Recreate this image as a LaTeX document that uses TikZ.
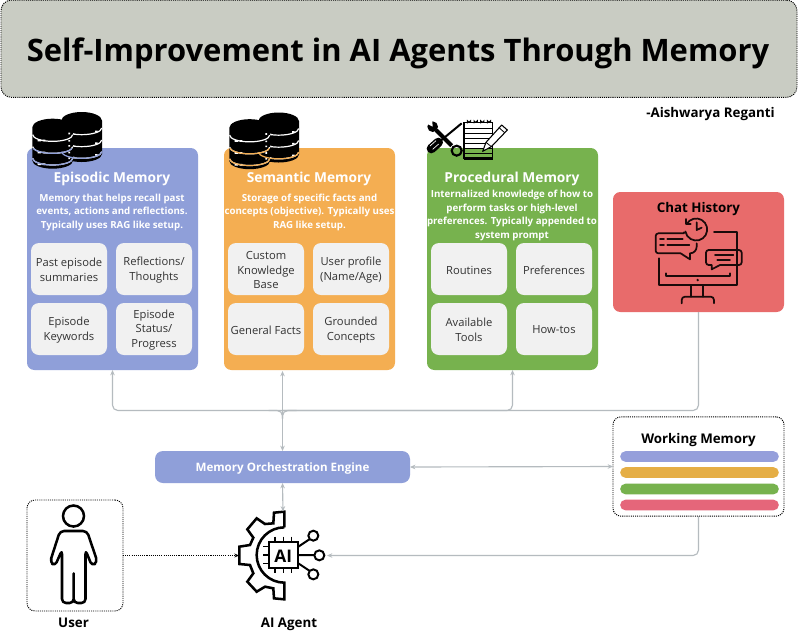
\documentclass[tikz,border=0pt]{standalone}
\usepackage{fontspec}
\setmainfont{Open Sans}
\usetikzlibrary{arrows.meta,calc}
\definecolor{cTitle}{HTML}{C9CCC3}
\definecolor{cEpi}{HTML}{8F9FD9}
\definecolor{cSem}{HTML}{F4AE52}
\definecolor{cProc}{HTML}{77B24E}
\definecolor{cChat}{HTML}{E86B6B}
\definecolor{cCell}{HTML}{F1F1F1}
\definecolor{cConn}{HTML}{B5BBBF}
\definecolor{cBarA}{HTML}{959FDB}
\definecolor{cBarB}{HTML}{E5AE45}
\definecolor{cBarC}{HTML}{77B24E}
\definecolor{cBarD}{HTML}{E5667A}
\definecolor{cInk}{HTML}{1A0A0A}
\newcommand{\fpx}[2]{\fontsize{#1}{#2}\selectfont}
\newcommand{\dblines}[3]{%
  \draw[#3,line width=.9pt] (#1-60,#2+22) arc[start angle=180,end angle=0,x radius=60,y radius=20];
  \draw[#3,line width=.9pt] (#1-60,#2+58) arc[start angle=180,end angle=0,x radius=60,y radius=20];
  \draw[#3,line width=.9pt] (#1-60,#2+93) arc[start angle=180,end angle=0,x radius=60,y radius=20];
}
\newcommand{\dbbody}[2]{%
  \fill[black] (#1-61,#2) -- (#1-61,#2+100) arc[start angle=180,end angle=0,x radius=61,y radius=24]
     -- (#1+61,#2) arc[start angle=0,end angle=-180,x radius=61,y radius=26] -- cycle;
  \dblines{#1}{#2}{white}
  \fill[white] (#1-45,#2+37) rectangle ++(10,5) (#1-30,#2+37) rectangle ++(8,5)
               (#1-45,#2+73) rectangle ++(10,5) (#1-30,#2+73) rectangle ++(8,5)
               (#1-45,#2+108) rectangle ++(10,5) (#1-30,#2+108) rectangle ++(8,5);
}
\newcommand{\dbicon}[1]{%
  \dbbody{245}{92}
  \fill[white] (285,122) rectangle ++(8,5) (285,157) rectangle ++(8,5) (285,192) rectangle ++(8,5);
  \dbbody{158}{112}
  \fill[white] (205,128) rectangle ++(5,5) (205,150) rectangle ++(5,5) (205,165) rectangle ++(5,5) (205,185) rectangle ++(5,5) (205,202) rectangle ++(5,5);
  \begin{scope}
    \clip (0,175) rectangle (330,250);
    \dblines{245}{92}{#1}
    \dblines{158}{112}{#1}
  \end{scope}
}
\newcommand{\cellnode}[4]{%
  \node[cell] (#1) at (#2,#3) {};
  \node[celltext] (#1t) at (#2,#3+1) {#4};
}
\tikzset{
  every node/.style={inner sep=0pt,outer sep=0pt,align=center},
  membox/.style={rounded corners=5.5pt,minimum width=128.25pt,minimum height=166.5pt},
  cell/.style={fill=cCell,rounded corners=6pt,minimum width=57pt,minimum height=39pt},
  celltext/.style={text=black!80,font=\fpx{8.4}{10.9}},
  memtitle/.style={text=white,font=\fpx{10.3}{13}\bfseries},
  memdesc/.style={text=white,font=\fpx{7.3}{10.1}\bfseries},
  bartag/.style={rounded corners=4pt,minimum width=119pt,minimum height=8pt},
  dotbox/.style={draw=black,line width=.7pt,dash pattern=on .8pt off .8pt,rounded corners=6pt},
  conn/.style={draw=cConn,line width=.85pt},
  tipE/.tip={Stealth[length=4pt,width=3.4pt]},
  blacklabel/.style={text=black,font=\fpx{10}{13}\bfseries},
  ink/.style={draw=cInk,line width=1.3pt,line cap=round,line join=round},
  gearline/.style={draw=black,line width=1.9pt,line join=miter},
}
\begin{document}
\begin{tikzpicture}[x=.75pt,y=-.75pt]
\useasboundingbox (0,0) rectangle (800,633);
\fill[white] (0,0) rectangle (800,633);
% title
\node[fill=cTitle,dotbox,rounded corners=8pt,minimum width=597pt,minimum height=73pt] (title) at (399,48.7) {};
\node[font=\fpx{23.2}{28}\bfseries,text=black] (titletext) at (398,53.5) {Self-Improvement in AI Agents Through Memory};
\node[blacklabel] (author) at (710.5,114) {-Aishwarya Reganti};
% memory boxes
\node[membox,fill=cEpi] (epi) at (112.5,259) {};
\node[membox,fill=cSem] (sem) at (309.5,259) {};
\node[membox,fill=cProc] (proc) at (512.5,259) {};
\node[rounded corners=5.5pt,minimum width=128.25pt,minimum height=90pt,fill=cChat] (chat) at (698.5,252) {};
% icons: databases
\begin{scope}[shift={(0,90)},x=.25pt,y=-.25pt]
  \dbicon{cEpi}
\end{scope}
\begin{scope}[shift={(197,90.5)},x=.25pt,y=-.25pt]
  \dbicon{cSem}
\end{scope}
% icon: tools and notepad
\begin{scope}[shift={(420,110)},x=.25pt,y=-.25pt]
  \draw[black,line width=1.5pt] (125,40) -- (62,92);
  \draw[black,line width=7pt,line cap=round] (55,97) -- (34,116);
  \draw[white,line width=.5pt] (30,108) -- (48,92) (38,118) -- (56,102);
  \draw[black,line width=3pt] (48,60) -- (95,107);
  \fill[black] (38,50) circle[radius=16];
  \fill[white] (38,50) -- (18,40) -- (36,22) -- cycle;
  \draw[black,line width=1.6pt] (110,122) circle[radius=15];
  \draw[black,line width=1.1pt] (132,38) rectangle (218,145);
  \foreach \yy in {55,70,85,100,115,130}{\draw[black,line width=.6pt] (134,\yy) -- (216,\yy);}
  \fill[black] (132,140) rectangle (218,150);
  \foreach \xx in {142,162,182,202}{\draw[black,line width=.7pt] (\xx,40) -- (\xx,32) arc[start angle=180,end angle=0,radius=5] -- ++(0,6);}
  \draw[black,line width=.8pt,fill=white,line join=round] (188,124) -- (198,97) -- (245,45) -- (262,60) -- (214,110) -- cycle;
  \draw[black,line width=.6pt] (198,97) -- (214,110) (237,53) -- (254,68);
\end{scope}
% memory titles
\node[memtitle] (epit) at (112,178.5) {Episodic Memory};
\node[memtitle] (semt) at (309,178.5) {Semantic Memory};
\node[memtitle] (proct) at (512,178.5) {Procedural Memory};
\node[memdesc] (epid) at (112,212) {Memory that helps recall past\\events, actions and reflections.\\Typically uses RAG like setup.};
\node[memdesc] (semd) at (309.5,212) {Storage of specific facts and\\concepts (objective). Typically uses\\RAG like setup.};
\node[memdesc] (procd) at (512,215.5) {Internalized knowledge of how to\\perform tasks or high-level\\preferences. Typically appended to\\system prompt};
% cells
\cellnode{e1}{69}{269}{Past episode\\summaries}
\cellnode{e2}{154}{269}{Reflections/\\Thoughts}
\cellnode{e3}{69}{329}{Episode\\Keywords}
\cellnode{e4}{154}{329}{Episode\\Status/\\Progress}
\cellnode{s1}{266}{269}{Custom\\Knowledge\\Base}
\cellnode{s2}{351}{269}{User profile\\(Name/Age)}
\cellnode{s3}{266}{329}{General Facts}
\cellnode{s4}{351}{329}{Grounded\\Concepts}
\cellnode{p1}{469}{269}{Routines}
\cellnode{p2}{554}{269}{Preferences}
\cellnode{p3}{469}{329}{Available\\Tools}
\cellnode{p4}{554}{329}{How-tos}
% chat history
\node[blacklabel] (chatt) at (698.5,209.5) {Chat History};
\begin{scope}[shift={(640,215)},x=.25pt,y=-.25pt]
  \draw[ink] (57,130) -- (57,210) -- (290,210) -- (290,50) -- (222,50);
  \draw[ink] (78,175) -- (78,182) -- (270,182) -- (270,175);
  \fill[cInk] (173,195) circle[radius=4];
  \draw[ink] (153,212) -- (153,245) (190,212) -- (190,245);
  \draw[ink] (125,265) -- (125,255) arc[start angle=180,end angle=270,radius=10] -- (212,245) arc[start angle=-90,end angle=0,radius=10] -- (222,265);
  \draw[ink] (132,52) -- (132,55) -- (55,55) arc[start angle=-90,end angle=-180,radius=8] -- (47,107) arc[start angle=180,end angle=90,radius=8] -- (122,115) -- (150,133) -- (150,115) arc[start angle=90,end angle=0,radius=20] -- (170,85);
  \draw[ink] (60,73) -- (72,73) (82,73) -- (128,73) (60,90) -- (72,90) (82,90) -- (148,90);
  \draw[ink] (206,105) -- (297,105) arc[start angle=-90,end angle=0,radius=8] -- (305,142) arc[start angle=0,end angle=90,radius=8] -- (240,150) -- (215,163) -- (215,150) -- (206,150) arc[start angle=90,end angle=180,radius=8] -- (198,113) arc[start angle=180,end angle=270,radius=8];
  \draw[ink] (225,120) -- (280,120) (232,134) -- (270,134);
  \draw[ink] (140,27) arc[start angle=-150,end angle=170,radius=33];
  \draw[ink] (137,12) -- (137,27) -- (152,27);
  \draw[ink] (170,22) -- (170,45) -- (185,38);
\end{scope}
% working memory
\node[dotbox,minimum width=128.25pt,minimum height=74.5pt,fill=white] (wm) at (698.5,466.5) {};
\node[blacklabel] (wmt) at (698.5,440.5) {Working Memory};
\node[bartag,fill=cBarA] (b1) at (699.5,456.5) {};
\node[bartag,fill=cBarB] (b2) at (699.5,472.5) {};
\node[bartag,fill=cBarC] (b3) at (699.5,489) {};
\node[bartag,fill=cBarD] (b4) at (699.5,505) {};
% orchestration
\node[rounded corners=6pt,fill=cEpi,minimum width=191.25pt,minimum height=24pt] (orch) at (282.5,467) {};
\node[text=white,font=\fpx{8.7}{11}\bfseries] (orchtext) at (282.5,468) {Memory Orchestration Engine};
% user
\node[dotbox,minimum width=72pt,minimum height=83.25pt] (user) at (75,555.5) {};
\draw[black,line width=1.9pt] (73.5,516) circle[radius=10.5];
\draw[black,line width=1.9pt,line join=round,rounded corners=3pt] (73.7,531) -- (60,531) -- (50,562) -- (55,566) -- (62,550) -- (62,603) -- (73.7,603) -- (73.7,571) -- (73.7,603) -- (85.5,603) -- (85.5,550) -- (92,566) -- (97.5,562) -- (87,531) -- cycle;
\node[blacklabel] (usert) at (73.5,622.5) {User};
% agent
\node[minimum width=66pt,minimum height=66pt] (agent) at (283,555.5) {};
\begin{scope}[shift={(0,370)},x=.25pt,y=-.25pt]
  \draw[gearline] (853,472) -- (853,425) -- (822,428) -- (820,460) -- (795,462) -- (770,445) -- (742,478) -- (760,503) -- (750,525) -- (718,530) -- (718,582) -- (750,585) -- (760,610) -- (742,635) -- (770,665) -- (795,650) -- (820,655) -- (822,685) -- (853,688) -- (853,638) arc[start angle=-270,end angle=-90,radius=83];
  \draw[black,line width=1.5pt] (806,515) rectangle (895,595);
  \draw[black,line width=1pt] (825,500) -- (825,515) (850,500) -- (850,515) (875,500) -- (875,515) (825,595) -- (825,610) (850,595) -- (850,610) (875,595) -- (875,610) (790,530) -- (806,530) (790,555) -- (806,555) (790,580) -- (806,580);
  \draw[black,line width=1.5pt] (895,530) -- (928,508) (895,555) -- (943,555) (895,580) -- (928,602);
  \draw[black,line width=1.5pt,fill=white] (940,497) circle[radius=15] (958,556) circle[radius=15] (940,613) circle[radius=15];
  \node[font=\fpx{13}{15}\bfseries,text=black] (aitext) at (850,558) {AI};
\end{scope}
\node[blacklabel] (agentt) at (289,624) {AI Agent};
% connectors
\coordinate (semin) at (282.5,371);
\coordinate (busmid) at (282.5,410.5);
\draw[conn,rounded corners=4pt,-{tipE}] (chat.south) |- (busmid) -| (epi.south);
\draw[conn,rounded corners=4pt,-{tipE}] (busmid) -| (proc.south);
\draw[conn,{tipE}-{tipE}] (semin) -- (orch.north);
\draw[conn,rounded corners=4pt] ($(busmid)+(-14,0)$) -| ($(busmid)+(0,8)$);
\draw[conn,rounded corners=4pt] ($(busmid)+(14,0)$) -| ($(busmid)+(0,8)$);
\draw[conn,{tipE}-{tipE}] (orch.south) -- (agent.north);
\draw[conn,{tipE}-{tipE}] (orch.east) -- (wm.west);
\draw[conn,rounded corners=4pt,-{tipE}] (wm.south) |- (agent.east);
\draw[black,line width=.7pt,dash pattern=on .8pt off .8pt,-{Stealth[length=3.5pt,width=3pt]}] (user.east) -- (agent.west);
\end{tikzpicture}
\end{document}
